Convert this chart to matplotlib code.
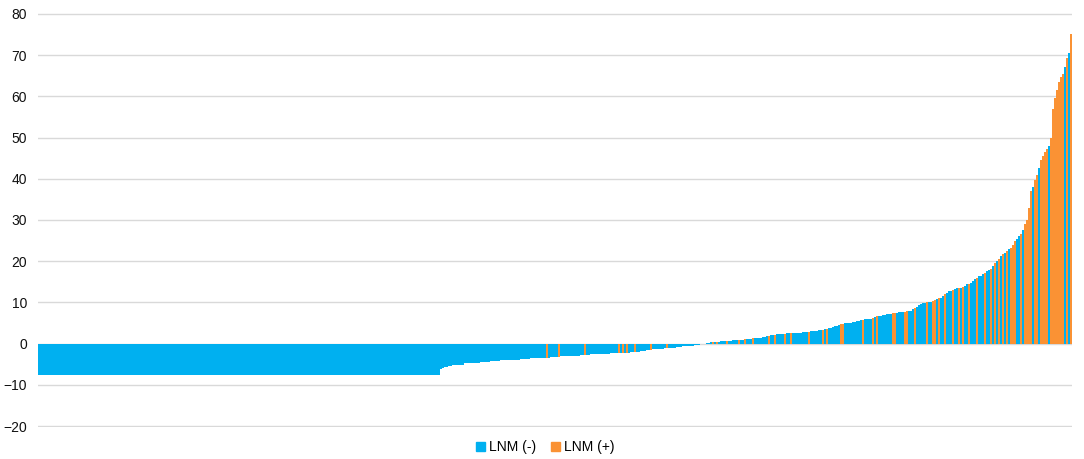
import numpy as np
import matplotlib.pyplot as plt
from matplotlib.patches import Patch

plt.rcParams['font.family'] = ['Liberation Sans', 'DejaVu Sans']

# 瀑布图数据: 按数值排序的每个病例 (LNM- 蓝色, LNM+ 橙色)
flat_value = -7.7
flat_count = 201

neg_levels = [-6.1, -5.9, -5.7, -5.45, -5.25, -5.05, -4.8, -4.6,
              -4.45, -4.25, -4.05, -3.85, -3.65, -3.5, -3.35, -3.2,
              -3.05, -2.9, -2.75, -2.6, -2.45, -2.3, -2.15, -1.95,
              -1.75, -1.55, -1.35, -1.2, -1.05, -0.95, -0.75, -0.6,
              -0.45, -0.3, -0.1]
neg_counts = [1, 1, 2, 2, 3, 3, 4, 4,
              5, 5, 5, 5, 5, 5, 5, 5,
              5, 5, 5, 5, 5, 5, 5, 5,
              3, 3, 3, 3, 3, 3, 3, 3,
              3, 3, 3]

pos_values = [0.1, 0.2,
              0.35, 0.4, 0.45, 0.5, 0.5,
              0.55, 0.6, 0.6, 0.65, 0.7, 0.75, 0.8, 0.85, 0.9, 0.9,
              0.95, 1.0, 1.05, 1.1, 1.15, 1.2, 1.3, 1.35, 1.4, 1.45,
              1.5, 1.6, 1.7, 1.8, 1.9, 2.0, 2.1, 2.2, 2.3, 2.35,
              2.4, 2.4, 2.45, 2.5, 2.5, 2.55, 2.6, 2.6, 2.65, 2.7,
              2.7, 2.75, 2.8, 2.9, 2.95, 3.0, 3.05, 3.1, 3.2, 3.25,
              3.3, 3.4, 3.5, 3.6, 3.75, 3.9, 4.0, 4.2, 4.4, 4.6,
              4.7, 4.8, 4.9, 5.0, 5.05, 5.1, 5.2, 5.3, 5.5, 5.6,
              5.7, 5.8, 5.9, 6.0, 6.05, 6.1, 6.3, 6.5, 6.6, 6.7,
              6.8, 6.9, 7.0, 7.1, 7.2, 7.3, 7.4, 7.4, 7.5, 7.6,
              7.7, 7.8, 7.8, 7.9, 8.0, 8.0, 8.3, 8.6, 9.0, 9.4,
              9.7, 9.8, 9.9, 10.0, 10.05, 10.1, 10.3, 10.5, 10.8, 11.0,
              11.2, 11.6, 12.0, 12.4, 12.7, 12.9, 13.1, 13.3, 13.4, 13.5,
              13.6, 13.8, 14.1, 14.4, 14.6, 14.8, 15.2, 15.6, 16.0, 16.3,
              16.5, 16.8, 17.2, 17.6, 17.9, 18.2, 18.8, 19.5, 20.0, 20.6,
              21.2, 21.7, 22.1, 22.5, 22.9, 23.3, 24.0, 24.8, 25.5, 26.1,
              26.7, 27.5, 29.0, 29.9, 33.0, 37.1, 38.0, 39.6, 41.0, 42.7,
              44.5, 45.6, 46.5, 47.2, 48.0, 50.0, 57.0, 59.7, 61.5, 63.4,
              64.8, 65.5, 67.0, 69.4, 70.4, 75.2]

# LNM(+) 病例所在位置 (排序后的序号)
lnm_pos_idx = [254, 260, 273, 290, 292, 294, 298, 306, 314, 337,
               339, 344, 350, 353, 357, 365, 368, 373, 376, 385,
               392, 394, 401, 402, 412, 417, 419, 427, 428, 433,
               434, 438, 444, 447, 448, 450, 453, 457, 460, 462,
               465, 469, 473, 476, 478, 480, 482, 484, 486, 487,
               488, 491, 493, 494, 495, 496, 498, 499, 501, 502, 503,
               504, 506, 507, 508, 509, 510, 511, 512, 514, 516]

values = np.concatenate([[flat_value] * flat_count,
                         np.repeat(neg_levels, neg_counts),
                         pos_values])
n = len(values)
blue = '#00B0F0'
orange = '#FA9234'
colors = [blue] * n
for i in lnm_pos_idx:
    colors[i] = orange

fig = plt.figure(figsize=(10.84, 4.59), dpi=100)
ax = fig.add_axes([38 / 1084, 1 - 427 / 459, 1034 / 1084, 414 / 459])
ax.bar(np.arange(n), values, width=1.0, color=colors, linewidth=0, zorder=2)

ax.set_xlim(-0.5, n - 0.5)
ax.set_ylim(-20.2, 80.2)
ax.set_yticks(range(-20, 81, 10))
ax.grid(axis='y', color='#D9D9D9', linewidth=1.0, zorder=0)
ax.set_axisbelow(True)
ax.set_xticks([])
for s in ax.spines.values():
    s.set_visible(False)
ax.tick_params(axis='y', length=0, pad=8, labelsize=10, labelcolor='#111111')

handles = [Patch(color=blue, label='LNM (-)'), Patch(color=orange, label='LNM (+)')]
fig.legend(handles=handles, loc='center', bbox_to_anchor=(0.503, 0.026), ncol=2,
           frameon=False, fontsize=10, handlelength=0.65, handleheight=0.65,
           handletextpad=0.3, columnspacing=1.1)

fig.savefig('out.png', dpi=100)
